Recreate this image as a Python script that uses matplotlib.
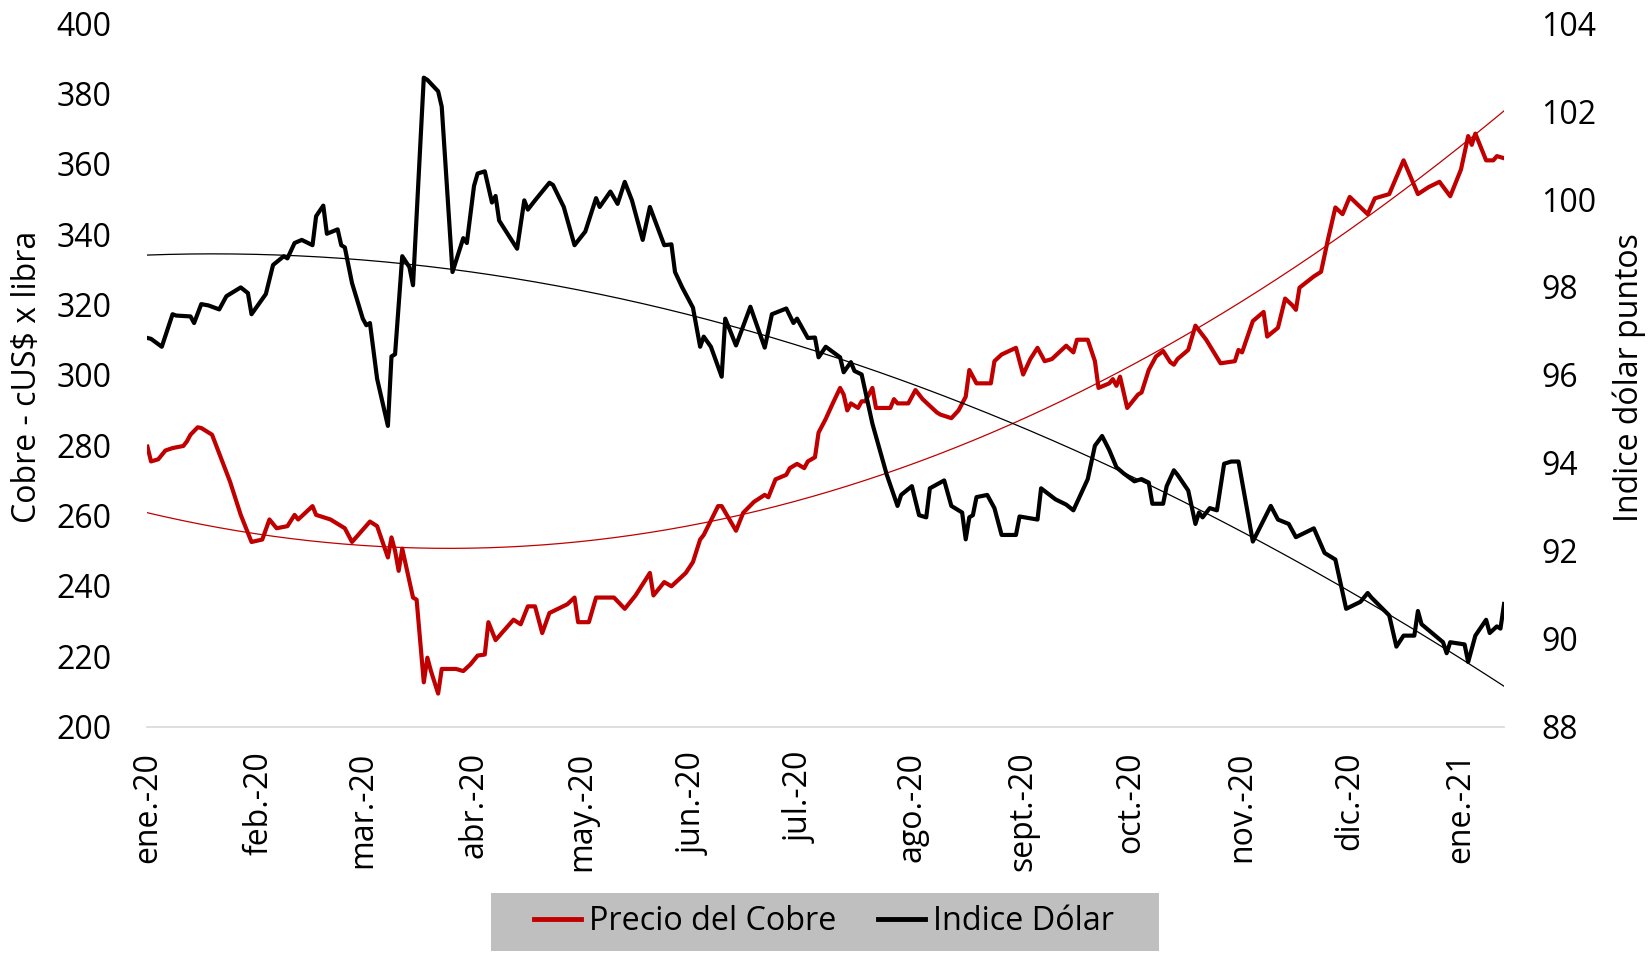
import numpy as np
import pandas as pd
import matplotlib
matplotlib.use('Agg')
import matplotlib.pyplot as plt
import matplotlib.dates as mdates
from matplotlib.patches import Rectangle
from matplotlib.lines import Line2D

plt.rcParams['font.family'] = ['Open Sans', 'DejaVu Sans']

# Precio del cobre (cUS$ x libra)
fechas_cobre = ['2020-01-01','2020-01-02','2020-01-04','2020-01-06','2020-01-08','2020-01-11','2020-01-12','2020-01-13','2020-01-15','2020-01-16','2020-01-19','2020-01-24','2020-01-27','2020-01-30',
                '2020-02-02','2020-02-04','2020-02-06','2020-02-09','2020-02-11','2020-02-12','2020-02-16','2020-02-17','2020-02-21','2020-02-25','2020-02-27',
                '2020-03-03','2020-03-05','2020-03-08','2020-03-09','2020-03-10','2020-03-11','2020-03-12','2020-03-15','2020-03-16','2020-03-18','2020-03-19','2020-03-20','2020-03-22','2020-03-23','2020-03-27','2020-03-29','2020-03-31',
                '2020-04-02','2020-04-04','2020-04-05','2020-04-07','2020-04-12','2020-04-14','2020-04-16','2020-04-18','2020-04-20','2020-04-22','2020-04-27','2020-04-29','2020-04-30',
                '2020-05-03','2020-05-05','2020-05-10','2020-05-13','2020-05-16','2020-05-20','2020-05-21','2020-05-24','2020-05-26','2020-05-30',
                '2020-06-01','2020-06-03','2020-06-04','2020-06-08','2020-06-09','2020-06-13','2020-06-15','2020-06-18','2020-06-21','2020-06-22','2020-06-24','2020-06-27','2020-06-28','2020-06-30',
                '2020-07-02','2020-07-03','2020-07-05','2020-07-06','2020-07-08','2020-07-10','2020-07-12','2020-07-13','2020-07-14','2020-07-15','2020-07-17','2020-07-18','2020-07-19','2020-07-21','2020-07-22','2020-07-26','2020-07-27','2020-07-28','2020-07-31',
                '2020-08-02','2020-08-04','2020-08-08','2020-08-09','2020-08-12','2020-08-14','2020-08-16','2020-08-17','2020-08-19','2020-08-23','2020-08-24','2020-08-26','2020-08-30',
                '2020-09-01','2020-09-03','2020-09-05','2020-09-07','2020-09-09','2020-09-13','2020-09-15','2020-09-16','2020-09-19','2020-09-21','2020-09-22','2020-09-25','2020-09-26','2020-09-27','2020-09-28','2020-09-30',
                '2020-10-03','2020-10-04','2020-10-06','2020-10-08','2020-10-10','2020-10-12','2020-10-13','2020-10-14','2020-10-17','2020-10-19','2020-10-22','2020-10-26','2020-10-30','2020-10-31',
                '2020-11-01','2020-11-04','2020-11-07','2020-11-08','2020-11-11','2020-11-13','2020-11-15','2020-11-16','2020-11-17','2020-11-21','2020-11-23','2020-11-25','2020-11-27','2020-11-29',
                '2020-12-01','2020-12-06','2020-12-08','2020-12-12','2020-12-16','2020-12-20','2020-12-23','2020-12-26','2020-12-29',
                '2021-01-01','2021-01-03','2021-01-04','2021-01-05','2021-01-08','2021-01-10','2021-01-11','2021-01-13']
cobre = [279.6, 275.4, 276.0, 278.5, 279.2, 279.8, 281.1, 283.0, 285.1, 284.9, 283.0, 269.7, 260.2, 252.5,
         253.2, 258.9, 256.4, 257.0, 260.2, 258.9, 262.7, 260.2, 258.9, 256.4, 252.5,
         258.3, 257.0, 248.1, 253.8, 250.0, 244.3, 250.6, 236.7, 236.1, 212.6, 219.6, 215.8, 209.4, 216.4, 216.4, 215.8, 217.7,
         220.2, 220.5, 229.7, 224.6, 230.4, 229.1, 234.2, 234.2, 226.6, 232.3, 234.8, 236.7, 229.7,
         229.7, 236.7, 236.7, 233.5, 237.3, 243.7, 237.3, 241.1, 239.9, 243.7,
         246.8, 253.2, 254.5, 262.7, 262.7, 255.7, 260.8, 263.9, 265.9, 265.2, 270.3, 271.6, 273.5, 274.7,
         273.5, 275.4, 276.6, 283.6, 287.5, 292.0, 296.3, 294.4, 289.9, 291.9, 290.6, 292.5, 292.5, 296.3, 290.6, 290.6, 293.1, 291.9, 291.9,
         295.7, 293.1, 289.3, 288.7, 287.7, 289.9, 293.8, 301.4, 297.6, 297.6, 303.9, 305.8, 307.7,
         300.1, 304.5, 307.7, 303.9, 304.5, 308.3, 306.4, 310.0, 310.0, 303.9, 296.3, 297.6, 298.8, 296.9, 299.5, 290.6,
         294.4, 295.0, 301.4, 305.2, 306.8, 303.6, 302.9, 304.5, 307.1, 314.0, 310.0, 303.3, 303.9, 307.1,
         306.4, 315.3, 317.9, 310.9, 313.4, 321.7, 319.8, 318.5, 324.8, 328.0, 329.3, 338.8, 347.6, 345.7,
         350.6, 345.7, 350.2, 351.4, 361.0, 351.4, 353.4, 354.9, 350.8,
         358.4, 367.9, 365.4, 368.6, 361.0, 361.0, 362.2, 361.6]

# Indice dolar (puntos)
fechas_dolar = ['2020-01-01','2020-01-02','2020-01-05','2020-01-08','2020-01-09','2020-01-13','2020-01-14','2020-01-16','2020-01-18','2020-01-21','2020-01-23','2020-01-27','2020-01-29','2020-01-30',
                '2020-02-03','2020-02-05','2020-02-08','2020-02-09','2020-02-11','2020-02-13','2020-02-16','2020-02-17','2020-02-19','2020-02-20','2020-02-23','2020-02-24','2020-02-25','2020-02-27',
                '2020-03-01','2020-03-02','2020-03-03','2020-03-05','2020-03-08','2020-03-09','2020-03-10','2020-03-12','2020-03-14','2020-03-15','2020-03-18','2020-03-19','2020-03-22','2020-03-23','2020-03-26','2020-03-29','2020-03-30',
                '2020-04-01','2020-04-02','2020-04-04','2020-04-06','2020-04-07','2020-04-08','2020-04-13','2020-04-15','2020-04-16','2020-04-18','2020-04-22','2020-04-23','2020-04-26','2020-04-29',
                '2020-05-02','2020-05-05','2020-05-06','2020-05-09','2020-05-11','2020-05-13','2020-05-15','2020-05-18','2020-05-20','2020-05-24','2020-05-26','2020-05-27','2020-05-29',
                '2020-06-01','2020-06-02','2020-06-03','2020-06-04','2020-06-06','2020-06-09','2020-06-10','2020-06-13','2020-06-17','2020-06-21','2020-06-23','2020-06-27','2020-06-29','2020-06-30',
                '2020-07-03','2020-07-05','2020-07-06','2020-07-08','2020-07-12','2020-07-13','2020-07-15','2020-07-16','2020-07-18','2020-07-21','2020-07-25','2020-07-28','2020-07-29',
                '2020-08-01','2020-08-03','2020-08-05','2020-08-06','2020-08-10','2020-08-12','2020-08-15','2020-08-16','2020-08-17','2020-08-18','2020-08-19','2020-08-22','2020-08-24','2020-08-26','2020-08-30','2020-08-31',
                '2020-09-05','2020-09-06','2020-09-10','2020-09-13','2020-09-15','2020-09-19','2020-09-21','2020-09-23','2020-09-25','2020-09-27','2020-09-29',
                '2020-10-02','2020-10-04','2020-10-06','2020-10-07','2020-10-10','2020-10-11','2020-10-13','2020-10-14','2020-10-17','2020-10-19','2020-10-20','2020-10-21','2020-10-23','2020-10-25','2020-10-27','2020-10-29','2020-10-31',
                '2020-11-04','2020-11-09','2020-11-11','2020-11-14','2020-11-16','2020-11-21','2020-11-24','2020-11-27','2020-11-30',
                '2020-12-04','2020-12-06','2020-12-07','2020-12-12','2020-12-14','2020-12-16','2020-12-19','2020-12-20','2020-12-21','2020-12-27','2020-12-28','2020-12-29',
                '2021-01-02','2021-01-03','2021-01-05','2021-01-08','2021-01-09','2021-01-11','2021-01-12','2021-01-13']
dolar = [96.84, 96.82, 96.64, 97.38, 97.35, 97.33, 97.18, 97.61, 97.58, 97.49, 97.79, 97.99, 97.86, 97.38,
         97.84, 98.50, 98.70, 98.65, 99.00, 99.07, 98.95, 99.61, 99.85, 99.21, 99.31, 98.95, 98.90, 98.09,
         97.28, 97.13, 97.18, 95.91, 94.84, 96.42, 96.47, 98.70, 98.45, 98.04, 102.76, 102.71, 102.45, 102.10, 98.34, 99.11, 99.00,
         100.30, 100.58, 100.63, 99.92, 100.07, 99.51, 98.87, 99.97, 99.76, 99.97, 100.37, 100.32, 99.82, 98.95,
         99.26, 100.02, 99.82, 100.17, 99.89, 100.39, 99.97, 99.07, 99.82, 98.95, 98.97, 98.34, 97.99,
         97.53, 97.08, 96.64, 96.87, 96.64, 95.96, 97.28, 96.67, 97.55, 96.62, 97.38, 97.51, 97.18, 97.28,
         96.84, 96.85, 96.40, 96.64, 96.40, 96.06, 96.29, 96.09, 96.01, 94.89, 93.73, 93.02, 93.27,
         93.47, 92.81, 92.76, 93.42, 93.60, 93.02, 92.87, 92.26, 92.76, 92.81, 93.22, 93.27, 92.97, 92.36, 92.36, 92.78,
         92.71, 93.42, 93.17, 93.05, 92.92, 93.63, 94.39, 94.61, 94.29, 93.90, 93.76,
         93.58, 93.63, 93.55, 93.07, 93.07, 93.47, 93.83, 93.73, 93.37, 92.61, 92.87, 92.76, 92.97, 92.92, 93.98, 94.03, 94.03,
         92.21, 93.02, 92.71, 92.61, 92.31, 92.51, 91.95, 91.80, 90.68,
         90.84, 91.04, 90.94, 90.53, 89.82, 90.07, 90.07, 90.63, 90.33, 89.92, 89.67, 89.92,
         89.87, 89.47, 90.07, 90.43, 90.13, 90.28, 90.23, 90.79]

# lineas de tendencia
fechas_tend_cobre = ['2020-01-01','2020-02-02','2020-03-03','2020-03-23','2020-04-16','2020-05-15','2020-07-09','2020-08-28','2020-10-12','2020-11-22','2021-01-13']
tend_cobre = [260.8, 254.5, 251.5, 250.6, 251.5, 254.5, 266.5, 286.2, 308.0, 335.6, 374.9]
fechas_tend_dolar = ['2020-01-01','2020-01-30','2020-02-25','2020-03-31','2020-05-16','2020-07-06','2020-08-19','2020-10-09','2020-11-22','2021-01-13']
tend_dolar = [98.75, 98.73, 98.63, 98.32, 97.68, 96.50, 95.30, 93.40, 91.40, 88.96]

meses = ['2020-01-01','2020-02-01','2020-03-01','2020-04-01','2020-05-01','2020-06-01','2020-07-01',
         '2020-08-01','2020-09-01','2020-10-01','2020-11-01','2020-12-01','2021-01-01']
etiquetas_meses = ['ene.-20','feb.-20','mar.-20','abr.-20','may.-20','jun.-20','jul.-20',
                   'ago.-20','sept.-20','oct.-20','nov.-20','dic.-20','ene.-21']

rojo = '#c00000'

fig = plt.figure(figsize=(16.51, 9.65), dpi=100)
ax = fig.add_axes([0.0893, 0.247, 0.8217, 0.729])
ax2 = ax.twinx()

x_cobre = pd.to_datetime(fechas_cobre)
x_dolar = pd.to_datetime(fechas_dolar)

# curva suave de tendencia (polinomio sobre los puntos leidos)
dias = pd.date_range(fechas_cobre[0], fechas_cobre[-1], freq='D')
t = mdates.date2num(dias)
pc = np.polyfit(mdates.date2num(pd.to_datetime(fechas_tend_cobre)), tend_cobre, 3)
pd_ = np.polyfit(mdates.date2num(pd.to_datetime(fechas_tend_dolar)), tend_dolar, 3)

ax.plot(x_cobre, cobre, color=rojo, lw=3.0, solid_joinstyle='round')
ax.plot(dias, np.polyval(pc, t), color=rojo, lw=0.9)
ax2.plot(x_dolar, dolar, color='black', lw=3.0, solid_joinstyle='round')
ax2.plot(dias, np.polyval(pd_, t), color='black', lw=0.9)

ax.set_ylim(200, 400)
ax.set_yticks(range(200, 401, 20))
ax2.set_ylim(88, 104)
ax2.set_yticks(range(88, 105, 2))
ax.set_xlim(pd.Timestamp('2020-01-01'), pd.Timestamp('2021-01-13'))
ax.set_xticks(pd.to_datetime(meses))
ax.set_xticklabels(etiquetas_meses, rotation=90)

for a in (ax, ax2):
    for s in ['top', 'left', 'right', 'bottom']:
        a.spines[s].set_visible(False)
ax.spines['bottom'].set_visible(True)
ax.spines['bottom'].set_color('#d9d9d9')
ax.spines['bottom'].set_linewidth(1.2)

ax.tick_params(axis='y', length=0, pad=26, labelsize=23)
ax.tick_params(axis='x', length=0, pad=18, labelsize=23)
ax2.tick_params(axis='y', length=0, pad=27, labelsize=23)

fig.text(0.0165, 0.609, 'Cobre - cUS$ x libra', rotation=90, ha='center', va='center', fontsize=23)
fig.text(0.9867, 0.609, 'Indice dólar puntos', rotation=90, ha='center', va='center', fontsize=23)

# leyenda con fondo gris
fig.patches.append(Rectangle((491/1651, 1-951/965), (1159-491)/1651, (951-893)/965,
                             transform=fig.transFigure, facecolor='#bfbfbf', edgecolor='none'))
handles = [Line2D([], [], color=rojo, lw=3.5), Line2D([], [], color='black', lw=3.5)]
fig.legend(handles, ['Precio del Cobre', 'Indice Dólar'], loc='center', bbox_to_anchor=(0.499, 0.0446),
           ncol=2, frameon=False, fontsize=23.3, handlelength=1.45, handletextpad=0.25, columnspacing=1.3)

plt.savefig('out.png', dpi=100)
